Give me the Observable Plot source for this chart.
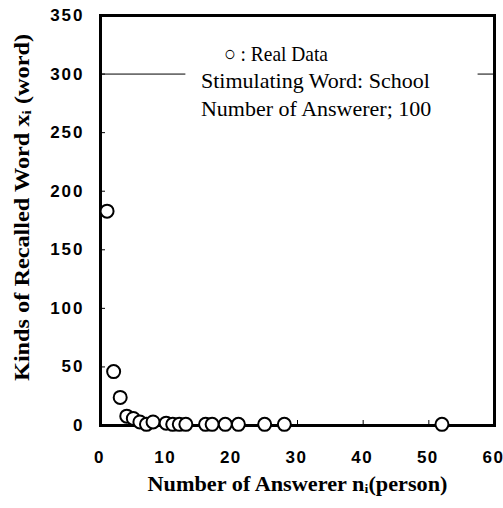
<!DOCTYPE html>
<html>
<head>
<meta charset="utf-8">
<script src="https://cdn.jsdelivr.net/npm/d3@7"></script>
<script src="https://cdn.jsdelivr.net/npm/@observablehq/plot@0.6"></script>
<style>
  body { margin: 0; background: #fff; }
</style>
</head>
<body>
<div id="chart"></div>
<script>
// Data
const answerers = [1, 2, 3, 4, 5, 6, 7, 8, 10, 11, 12, 13, 16, 17, 19, 21, 25, 28, 52];
const kinds     = [183, 46, 24, 8, 6, 3, 1, 3, 2, 1, 1, 1, 1, 1, 1, 1, 1, 1, 1];
const xTicks = [0, 10, 20, 30, 40, 50, 60];
const yTicks = [0, 50, 100, 150, 200, 250, 300, 350];
const xTitle = "Number of Answerer n\u1D62(person)";
const yTitle = "Kinds of Recalled Word x\u1D62 (word)";
const legendLines = ["\u25CB : Real Data", "Stimulating Word: School", "Number of Answerer; 100"];

const data = answerers.map((n, i) => ({n, x: kinds[i]}));

const tickFont = "'Liberation Sans', Arial, sans-serif";
const serif = "'Liberation Serif', 'Times New Roman', serif";

const chart = Plot.plot({
  width: 503,
  height: 508,
  marginLeft: 100,
  marginRight: 9,
  marginTop: 15,
  marginBottom: 83,
  x: {domain: [0, 60]},
  y: {domain: [0, 350]},
  style: {background: "#fff", color: "#000"},
  marks: [
    // gridline at 300 partially hidden behind legend box
    Plot.ruleY([300], {stroke: "#000", strokeWidth: 1}),
    Plot.rect([{x1: 13, x2: 57.5, y1: 262, y2: 330}], {x1: "x1", x2: "x2", y1: "y1", y2: "y2", fill: "#fff"}),
    Plot.axisX({
      ticks: xTicks, tickSize: -5, tickPadding: 30, label: null,
      fontFamily: tickFont, fontWeight: "bold", fontSize: 17, strokeWidth: 1
    }),
    Plot.axisY({
      ticks: yTicks, tickSize: -5, tickPadding: 21, label: null,
      fontFamily: tickFont, fontWeight: "bold", fontSize: 17, strokeWidth: 1
    }),
    Plot.frame({stroke: "#000", strokeWidth: 3}),
    Plot.dot(data, {x: "n", y: "x", r: 6.5, stroke: "#000", strokeWidth: 2, fill: "#fff"}),
    Plot.text([xTitle], {
      frameAnchor: "bottom", dy: 65, fontFamily: serif, fontWeight: "bold", fontSize: 20, fill: "#000",
      className: "xtitle"
    }),
    Plot.text([yTitle], {
      frameAnchor: "left", textAnchor: "middle", dx: -78, dy: -13, rotate: -90,
      fontFamily: serif, fontWeight: "bold", fontSize: 20, fill: "#000",
      className: "ytitle"
    }),
    Plot.text([legendLines[0]], {x: [18.8], y: [317.6], textAnchor: "start", fontFamily: serif, fontSize: 22, fill: "#000", className: "leg1"}),
    Plot.text(legendLines.slice(1), {x: [15.3, 15.3], y: [293.7, 269.8], textAnchor: "start", fontFamily: serif, fontSize: 22, fill: "#000"})
  ]
});

chart.querySelectorAll("[aria-label='y-axis tick label'] text").forEach(t => t.setAttribute("letter-spacing", "2"));
chart.querySelectorAll("[aria-label='x-axis tick label'] text").forEach(t => {
  t.setAttribute("letter-spacing", "1.5");
  t.setAttribute("dx", "-1");
});
const fit = (sel, len) => chart.querySelectorAll(sel + " text").forEach(t => {
  t.setAttribute("textLength", len);
  t.setAttribute("lengthAdjust", "spacingAndGlyphs");
});
fit(".xtitle", 300);
fit(".ytitle", 347);
fit(".leg1", 104);
document.getElementById("chart").appendChild(chart);
</script>
</body>
</html>
